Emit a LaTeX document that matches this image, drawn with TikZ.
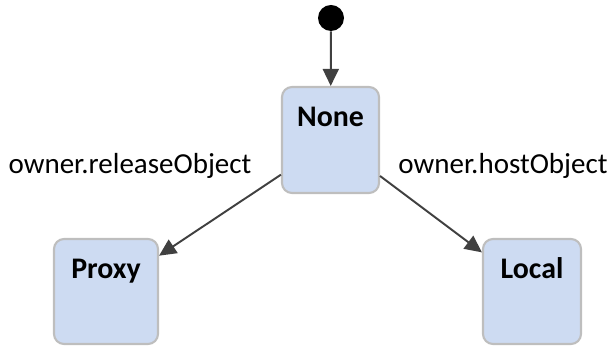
\documentclass[tikz,border=0pt]{standalone}
\usepackage{fontspec}
\setmainfont{Carlito}
\usetikzlibrary{arrows.meta}
\definecolor{statefill}{RGB}{205,219,242}
\definecolor{stateline}{RGB}{190,190,190}

\begin{document}
\begin{tikzpicture}[
        font=\fontsize{16.5}{19}\selectfont,
        state/.style={rectangle, rounded corners=0.2cm, draw=stateline, fill=statefill,
                      line width=1.2pt, inner sep=0.2cm, text height=0.6cm,
                      font=\fontsize{17}{20}\selectfont\bfseries},
        initial/.style={circle, fill=black, inner sep=0pt, minimum size=0.52cm},
        arr/.style={-{Triangle[length=0.34cm,width=0.32cm]}, line width=1.1pt, black!75}
      ]
        \useasboundingbox (0,0) rectangle (12.18,6.94);

        \node[initial] (start) at (6.62,6.58) {};
        \node[state, minimum width=1.94cm, text depth=1.12cm] (none)  at (6.61,4.14) {None};
        \node[state, minimum width=2.08cm, text depth=1.10cm] (proxy) at (2.12,1.11) {Proxy};
        \node[state, minimum width=1.96cm, text depth=1.10cm] (local) at (10.64,1.11) {Local};

        \node (rel)  at (2.6,3.62)  {owner.releaseObject};
        \node (host) at (10.06,3.62) {owner.hostObject};

        \draw[arr] (start) -- (none);
        \draw[arr] (none.215) -- (proxy.34);
        \draw[arr] (none.-36) -- (local.142);
      \end{tikzpicture}
\end{document}
